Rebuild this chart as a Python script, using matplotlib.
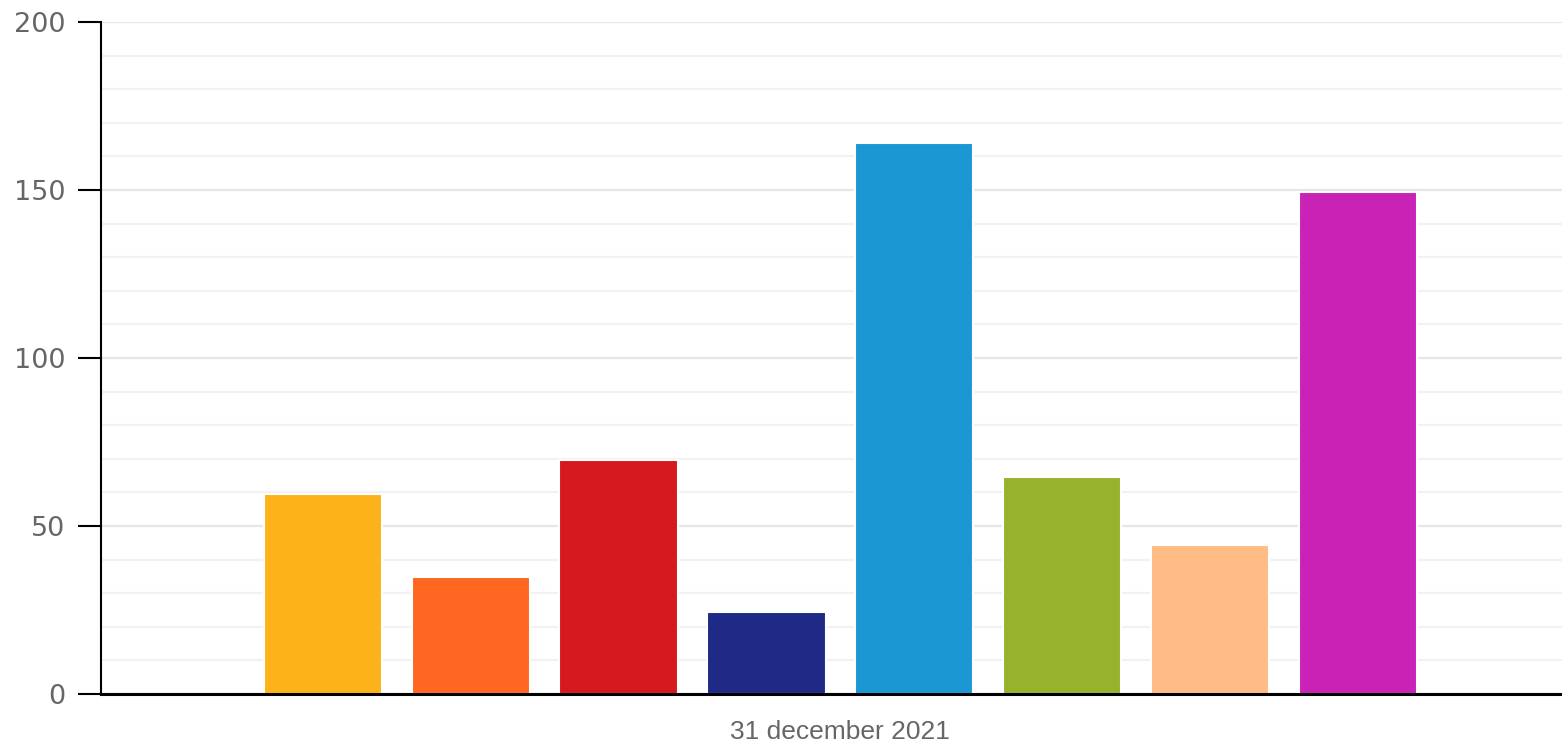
import matplotlib
matplotlib.use("Agg")
import matplotlib.pyplot as plt
import numpy as np

category = "31 december 2021"
values = [59.5, 34.8, 69.5, 24.5, 164, 64.5, 44.2, 149.5]
colors = ["#FDB219", "#FF6720", "#D5191F", "#1F2A86", "#1B97D4", "#97B32D", "#FFBD85", "#C822B6"]
yticks = [0, 50, 100, 150, 200]

fig = plt.figure(figsize=(15.62, 7.44), dpi=100)
ax = fig.add_axes([101/1562, 1 - 694/744, 1 - 101/1562, (694 - 22)/744])

n = len(values)
offsets = np.arange(n) - (n - 1) / 2
ax.bar(offsets, values, width=0.80, color=colors, edgecolor="white", linewidth=1.5, zorder=3)

ax.set_xlim(-5.0, 4.88)
ax.set_ylim(0, 200)
ax.set_yticks(yticks)
ax.set_yticks(np.arange(0, 201, 10), minor=True)
ax.grid(True, axis="y", which="major", color="#e6e6e6", linewidth=1.6, zorder=0)
ax.grid(True, axis="y", which="minor", color="#f2f2f2", linewidth=1.6, zorder=0)
ax.tick_params(axis="y", which="minor", length=0)
ax.tick_params(axis="y", which="major", length=16.5, width=1.5, color="black",
               labelsize=19.5, labelcolor="#666666", pad=9)
for lbl in ax.get_yticklabels():
    lbl.set_fontfamily("DejaVu Sans")

ax.set_xticks([0])
ax.set_xticklabels([category], fontfamily="Liberation Sans", fontsize=19, color="#666666")
ax.tick_params(axis="x", length=0, pad=19)

for s in ["top", "right"]:
    ax.spines[s].set_visible(False)
ax.spines["left"].set_linewidth(1.5)
ax.spines["bottom"].set_linewidth(2.2)
ax.spines["left"].set_zorder(4)
ax.spines["bottom"].set_zorder(4)

fig.savefig("out.png", dpi=100)
